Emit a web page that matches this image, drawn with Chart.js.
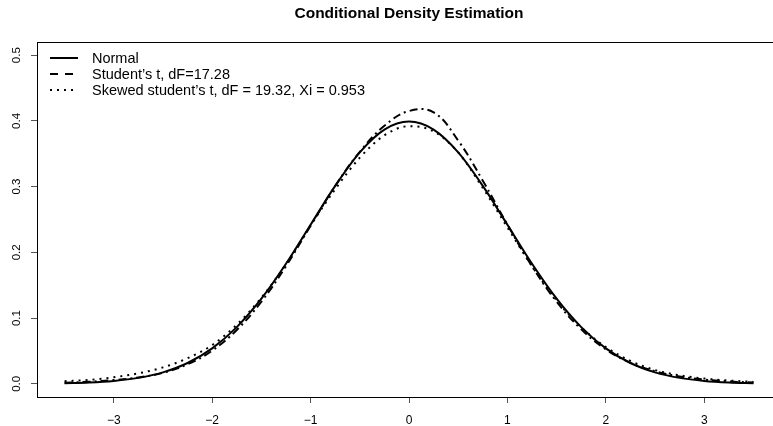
<!DOCTYPE html>
<html>
<head>
<meta charset="utf-8">
<script src="https://cdn.jsdelivr.net/npm/chart.js@4/dist/chart.umd.min.js"></script>
<style>
html,body{margin:0;padding:0;background:#fff;overflow:hidden;width:773px;height:426px;}
#wrap{position:absolute;left:0;top:0;width:790px;height:426px;}
</style>
</head>
<body>
<div id="wrap"><canvas id="c" width="790" height="426"></canvas></div>
<script>
// ---- data ----
const chartTitle = "Conditional Density Estimation";
const xValues = [-3.5,-3.25,-3,-2.75,-2.5,-2.25,-2,-1.75,-1.5,-1.25,-1,-0.75,-0.5,-0.25,0,0.25,0.5,0.75,1,1.25,1.5,1.75,2,2.25,2.5,2.75,3,3.25,3.5];
const normalDensity = [0.0009,0.0020,0.0044,0.0091,0.0175,0.0317,0.0540,0.0863,0.1295,0.1826,0.2420,0.3011,0.3521,0.3867,0.3989,0.3867,0.3521,0.3011,0.2420,0.1826,0.1295,0.0863,0.0540,0.0317,0.0175,0.0091,0.0044,0.0020,0.0009];
const studentDensity = [0.0018,0.0032,0.0057,0.0098,0.0168,0.0298,0.0505,0.0820,0.1250,0.1790,0.2405,0.3010,0.3530,0.3925,0.4150,0.4130,0.3700,0.3090,0.2422,0.1789,0.1250,0.0830,0.0525,0.0320,0.0192,0.0112,0.0065,0.0037,0.0021];
const skewedDensity = [0.004,0.006,0.010,0.016,0.025,0.039,0.059,0.090,0.131,0.182,0.241,0.296,0.344,0.378,0.392,0.384,0.352,0.298,0.238,0.179,0.127,0.086,0.056,0.035,0.021,0.013,0.008,0.005,0.003];
const seriesLabels = ["Normal", "Student\u2019s t, dF=17.28", "Skewed student\u2019s t, dF = 19.32, Xi = 0.953"];
const xTickValues = [-3,-2,-1,0,1,2,3];
const xTickLabels = ["\u22123","\u22122","\u22121","0","1","2","3"];
const yTickValues = [0,0.1,0.2,0.3,0.4,0.5];
const yTickLabels = ["0.0","0.1","0.2","0.3","0.4","0.5"];

const FONT = "'Liberation Sans', Arial, Helvetica, sans-serif";
const toPts = ys => xValues.map((x,i)=>({x:x,y:ys[i]}));

const curveDash = [[], [8,4,2,4], [2,5]];
const legendDash = [[], [8,7], [2,5]];

const boxAndLegend = {
  id: 'boxAndLegend',
  afterDraw(chart) {
    const ctx = chart.ctx, a = chart.chartArea;
    ctx.save();
    ctx.strokeStyle = '#000'; ctx.lineWidth = 1;
    ctx.strokeRect(a.left + 0.5, a.top + 0.5, a.right - a.left, a.bottom - a.top);
    // title
    ctx.fillStyle = '#000';
    ctx.font = "bold 15.5px " + FONT;
    ctx.textAlign = 'center'; ctx.textBaseline = 'middle';
    ctx.fillText(chartTitle, 409, 14);
    // legend
    ctx.font = "14.5px " + FONT;
    ctx.textAlign = 'left';
    for (let i = 0; i < seriesLabels.length; i++) {
      const y = 58 + i * 16;
      ctx.beginPath();
      ctx.setLineDash(legendDash[i]);
      ctx.lineWidth = 2;
      ctx.moveTo(50, y); ctx.lineTo(78, y);
      ctx.stroke();
      ctx.setLineDash([]);
      ctx.fillText(seriesLabels[i], 92, y + 1);
    }
    ctx.restore();
  }
};

new Chart(document.getElementById('c'), {
  type: 'line',
  data: {
    datasets: [
      {label: seriesLabels[0], data: toPts(normalDensity), borderColor:'#000', borderWidth:2, borderDash: curveDash[0], pointRadius:0, cubicInterpolationMode:'monotone', fill:false},
      {label: seriesLabels[1], data: toPts(studentDensity), borderColor:'#000', borderWidth:2, borderDash: curveDash[1], pointRadius:0, tension:0.4, fill:false},
      {label: seriesLabels[2], data: toPts(skewedDensity), borderColor:'#000', borderWidth:2, borderDash: curveDash[2], pointRadius:0, cubicInterpolationMode:'monotone', fill:false}
    ]
  },
  options: {
    responsive: false,
    animation: false,
    devicePixelRatio: 1,
    layout: {padding: {left: 0, top: 42, right: 9, bottom: 0}},
    plugins: {legend: {display: false}, tooltip: {enabled: false}, title: {display: false}},
    scales: {
      x: {
        type: 'linear', min: -3.78, max: 3.78,
        afterBuildTicks: s => { s.ticks = xTickValues.map(v => ({value: v})); },
        afterFit: s => { s.height = 29; },
        ticks: {
          callback: v => { const i = xTickValues.indexOf(v); return i >= 0 ? xTickLabels[i] : ''; },
          color: '#000', font: {family: FONT, size: 12}, padding: 10, maxRotation: 0, autoSkip: false
        },
        grid: {display: true, drawOnChartArea: false, drawTicks: true, tickLength: 6, color: '#555'},
        border: {display: true, color: '#000', width: 1}
      },
      y: {
        type: 'linear', min: -0.02, max: 0.52,
        afterBuildTicks: s => { s.ticks = yTickValues.map(v => ({value: v})); },
        afterFit: s => { s.width = 37; },
        ticks: {
          callback: v => { const i = yTickValues.findIndex(t => Math.abs(t - v) < 1e-9); return i >= 0 ? yTickLabels[i] : ''; },
          color: '#000', font: {family: FONT, size: 11.5}, padding: 6, minRotation: 90, maxRotation: 90, crossAlign: 'center', autoSkip: false
        },
        grid: {display: true, drawOnChartArea: false, drawTicks: true, tickLength: 6, color: '#555'},
        border: {display: true, color: '#000', width: 1}
      }
    }
  },
  plugins: [boxAndLegend]
});
</script>
</body>
</html>
